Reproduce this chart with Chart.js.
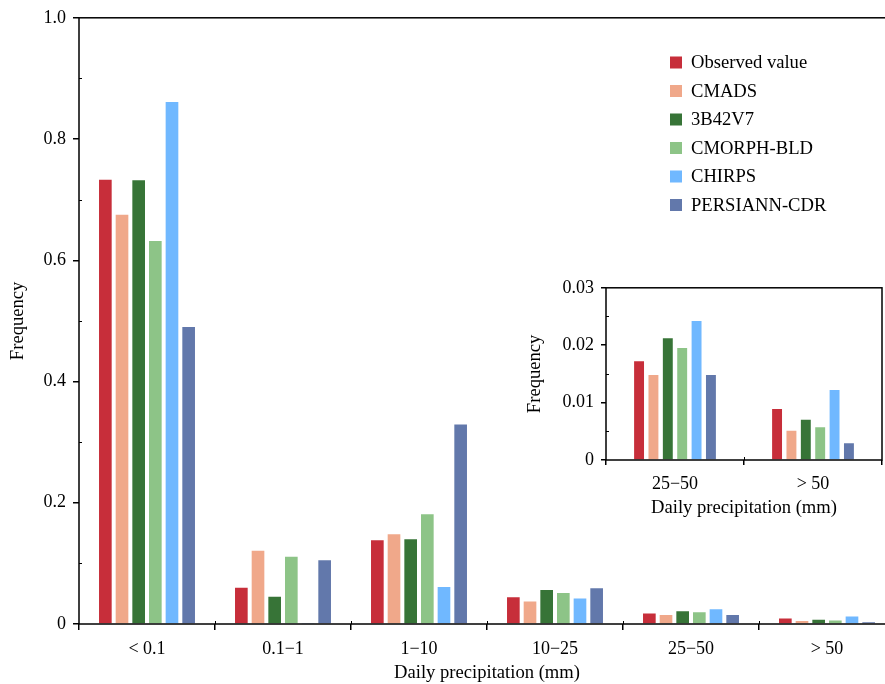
<!DOCTYPE html>
<html>
<head>
<meta charset="utf-8">
<script src="https://cdn.jsdelivr.net/npm/chart.js@4.4.0/dist/chart.umd.min.js"></script>
<style>
  html, body { margin: 0; padding: 0; background: #fff; overflow: hidden; }
  #wrap { position: relative; width: 885px; height: 684px; overflow: hidden; }
  #mainChart { position: absolute; left: 0; top: 0; }
  #insetChart { position: absolute; left: 515px; top: 270px; }
</style>
</head>
<body>
<div id="wrap">
  <canvas id="mainChart" width="900" height="684"></canvas>
  <canvas id="insetChart" width="370" height="260"></canvas>
</div>
<script>
const categories = ['< 0.1', '0.1\u22121', '1\u221210', '10\u221225', '25\u221250', '> 50'];

const observed  = [0.733, 0.060, 0.138, 0.044, 0.0172, 0.0089];
const cmads     = [0.675, 0.121, 0.148, 0.037, 0.0148, 0.0051];
const b42v7     = [0.732, 0.045, 0.140, 0.056, 0.0212, 0.0070];
const cmorph    = [0.632, 0.111, 0.181, 0.051, 0.0195, 0.0057];
const chirps    = [0.861, 0.001, 0.061, 0.042, 0.0242, 0.0122];
const persiann  = [0.490, 0.105, 0.329, 0.059, 0.0148, 0.0029];

const seriesNames = ['Observed value', 'CMADS', '3B42V7', 'CMORPH-BLD', 'CHIRPS', 'PERSIANN-CDR'];
const seriesValues = [observed, cmads, b42v7, cmorph, chirps, persiann];
const colors = ['#C72E3A', '#F0A88A', '#377437', '#8DC487', '#70B8FF', '#6278AB'];

const mainTicks = [0, 0.2, 0.4, 0.6, 0.8, 1.0];
const insetTicks = [0, 0.01, 0.02, 0.03];

const FONT = "'Liberation Serif', 'Times New Roman', serif";
const TITLE_SIZE = 18.6;
Chart.defaults.font.family = FONT;
Chart.defaults.font.size = 18;
Chart.defaults.color = '#000';

const makeDatasets = (from) => seriesNames.map((name, i) => ({
    label: name,
    data: seriesValues[i].slice(from),
    backgroundColor: colors[i],
    borderWidth: 0
}));

// frame, minor ticks and the legend
const decorations = {
    id: 'decorations',
    afterDraw(chart, args, opts) {
        const { ctx, chartArea: a, scales: { x, y } } = chart;
        ctx.save();
        ctx.strokeStyle = '#000';
        ctx.lineWidth = 1.5;
        ctx.strokeRect(a.left, a.top, a.right - a.left, a.bottom - a.top);

        ctx.lineWidth = 1;
        const step = opts.step;
        for (let v = step / 2; v < y.max; v += step) {
            const py = Math.round(y.getPixelForValue(v)) + 0.5;
            ctx.beginPath();
            ctx.moveTo(a.left, py);
            ctx.lineTo(a.left + 3, py);
            ctx.stroke();
        }
        for (let i = 1; i < x.ticks.length; i++) {
            const px = Math.round((x.getPixelForTick(i - 1) + x.getPixelForTick(i)) / 2) + 0.5;
            ctx.beginPath();
            ctx.moveTo(px, a.bottom);
            ctx.lineTo(px, a.bottom - 3);
            ctx.stroke();
        }

        if (opts.legend) {
            const lg = opts.legend;
            ctx.font = `${TITLE_SIZE}px ${FONT}`;
            ctx.textBaseline = 'middle';
            ctx.textAlign = 'left';
            chart.data.datasets.forEach((ds, i) => {
                const cy = lg.y + i * lg.gap;
                ctx.fillStyle = ds.backgroundColor;
                ctx.fillRect(lg.x, cy - 6, 12, 12);
                ctx.fillStyle = '#000';
                ctx.fillText(ds.label, lg.x + 21, cy + 1);
            });
        }
        ctx.restore();
    }
};

const axisOptions = (ticksList, decimals, yWidth, xHeight, tickLen) => ({
    x: {
        grid: { display: true, drawOnChartArea: false, drawTicks: true, tickLength: tickLen, color: '#000', lineWidth: 1.5 },
        border: { display: false },
        ticks: { padding: 8, maxRotation: 0, autoSkip: false },
        title: { display: true, text: 'Daily precipitation (mm)', font: { size: TITLE_SIZE }, padding: { top: 0, bottom: 0 } },
        afterFit(scale) { scale.height = xHeight; }
    },
    y: {
        min: 0,
        max: ticksList[ticksList.length - 1],
        grid: { display: true, drawOnChartArea: false, drawTicks: true, tickLength: tickLen, color: '#000', lineWidth: 1.5 },
        border: { display: false },
        afterBuildTicks(scale) { scale.ticks = ticksList.map(v => ({ value: v })); },
        ticks: {
            padding: 7,
            callback: v => v === 0 ? '0' : Number(v).toFixed(decimals)
        },
        title: { display: true, text: 'Frequency', font: { size: TITLE_SIZE }, padding: { top: 0, bottom: 0 } },
        afterFit(scale) { scale.width = yWidth; }
    }
});

new Chart(document.getElementById('mainChart').getContext('2d'), {
    type: 'bar',
    data: { labels: categories, datasets: makeDatasets(0) },
    options: {
        responsive: false,
        animation: false,
        devicePixelRatio: 1,
        categoryPercentage: 0.735,
        barPercentage: 0.76,
        layout: { padding: { top: 17, right: 5, left: 7, bottom: 0 } },
        plugins: {
            legend: { display: false },
            tooltip: { enabled: false },
            decorations: { step: 0.2, legend: { x: 670, y: 62.5, gap: 28.5 } }
        },
        scales: axisOptions(mainTicks, 1, 72, 60, 6)
    },
    plugins: [decorations]
});

new Chart(document.getElementById('insetChart').getContext('2d'), {
    type: 'bar',
    data: { labels: categories.slice(4), datasets: makeDatasets(4) },
    options: {
        responsive: false,
        animation: false,
        devicePixelRatio: 1,
        categoryPercentage: 0.625,
        barPercentage: 0.69,
        layout: { padding: { top: 17, right: 3, left: 9, bottom: 11 } },
        plugins: {
            legend: { display: false },
            tooltip: { enabled: false },
            decorations: { step: 0.01 }
        },
        scales: axisOptions(insetTicks, 2, 82, 59, 5)
    },
    plugins: [decorations]
});
</script>
</body>
</html>
